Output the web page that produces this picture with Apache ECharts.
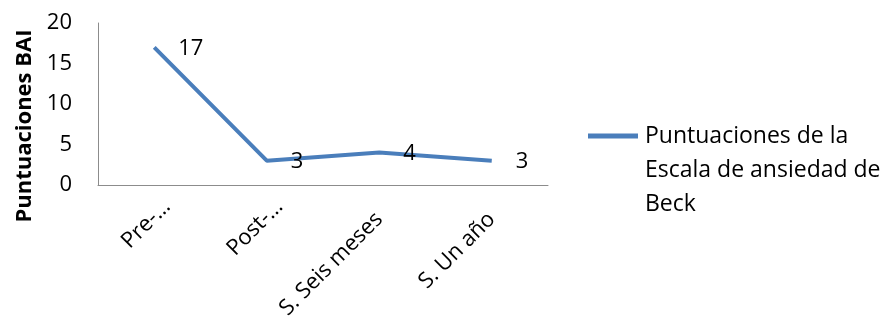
<!DOCTYPE html>
<html><head><meta charset="utf-8">
<script src="https://cdn.jsdelivr.net/npm/echarts@6/dist/echarts.min.js"></script>
<style>html,body{margin:0;padding:0;background:#fff}#c{width:885px;height:320px}</style>
</head><body><div id="c"></div>
<script>
const categories = ["Pre-…", "Post-…", "S. Seis meses", "S. Un año"];
const values = [17, 3, 4, 3];
const seriesName = "Puntuaciones de la\nEscala de ansiedad de\nBeck";
const yAxisName = "Puntuaciones BAI";
const yTicks = [0, 5, 10, 15, 20];

const FONT = "'Open Sans', 'Liberation Sans', sans-serif";
const chart = echarts.init(document.getElementById('c'), null, {renderer: 'canvas'});
chart.setOption({
  animation: false,
  grid: {left: 98, top: 23, width: 450, height: 162, containLabel: false, outerBoundsMode: 'none'},
  legend: {
    left: 588, top: 51,
    orient: 'vertical',
    padding: 0,
    data: [{name: seriesName, icon: 'path://M0,0 L60,0 L60,6 L0,6 Z'}],
    itemWidth: 54, itemHeight: 5,
    itemGap: 0,
    formatter: function (n) { return '\n\n' + n; },
    textStyle: {fontFamily: FONT, fontSize: 23, color: '#000', lineHeight: 34}
  },
  xAxis: {
    type: 'category', boundaryGap: true,
    data: categories.map(function (c) {
      return c.endsWith('…') ? {value: c, textStyle: {padding: [0, -18, 0, 0]}} : c;
    }),
    axisLine: {lineStyle: {color: '#8c8c8c', width: 1}},
    axisTick: {show: false},
    axisLabel: {rotate: 45, fontFamily: FONT, fontSize: 22, color: '#000', margin: 31, interval: 0}
  },
  yAxis: {
    type: 'value', min: yTicks[0], max: yTicks[yTicks.length-1], interval: 5,
    name: yAxisName, nameLocation: 'middle', nameGap: 62, nameMoveOverlap: false,
    nameTextStyle: {fontFamily: FONT, fontSize: 22, fontWeight: 'bold', color: '#000', padding: [0, 44, 0, 0]},
    axisLine: {show: true, lineStyle: {color: '#8c8c8c', width: 1}},
    axisTick: {show: false},
    splitLine: {show: false},
    axisLabel: {fontFamily: FONT, fontSize: 22, color: '#000', margin: 26}
  },
  series: [{
    name: seriesName, type: 'line', data: values,
    symbol: 'circle', symbolSize: 0, showSymbol: true,
    lineStyle: {color: '#4a7ebb', width: 4},
    itemStyle: {color: '#4a7ebb'},
    label: {show: true, position: 'right', distance: 24, fontFamily: FONT, fontSize: 22, color: '#000', offset: [0, 1]}
  }]
});
</script></body></html>
